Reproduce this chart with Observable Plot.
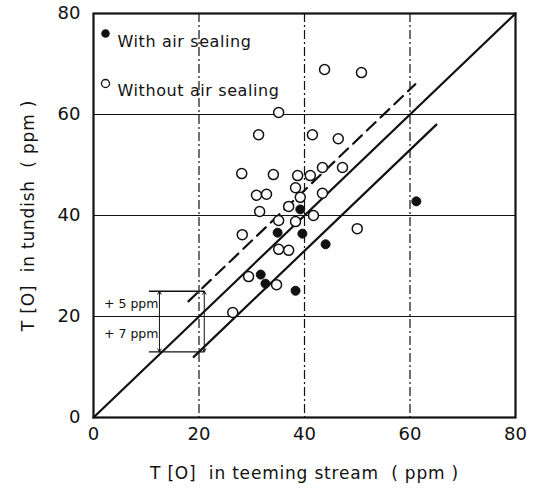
<!DOCTYPE html>
<html>
<head>
<meta charset="utf-8">
<script src="https://cdn.jsdelivr.net/npm/d3@7"></script>
<script src="https://cdn.jsdelivr.net/npm/@observablehq/plot@0.6"></script>
<style>
  body { margin: 0; background: #fff; }
  #chart svg { display: block; }
</style>
</head>
<body>
<div id="chart"></div>
<script>
// Total oxygen, teeming stream (x) vs tundish (y), ppm
const withoutSealingX = [43.8, 50.8, 35.1, 31.3, 41.5, 46.4, 28.1, 34.1, 38.7, 41.1, 43.4, 47.2, 38.3, 30.9, 32.8, 39.2, 43.4, 37.0, 31.5, 41.7, 35.1, 38.3, 28.2, 50.0, 35.1, 37.0, 29.4, 34.7, 26.4];
const withoutSealingY = [68.9, 68.3, 60.4, 56.0, 56.0, 55.2, 48.3, 48.1, 47.9, 47.9, 49.5, 49.5, 45.5, 44.0, 44.2, 43.6, 44.4, 41.8, 40.8, 40.0, 39.0, 38.8, 36.2, 37.4, 33.3, 33.1, 27.9, 26.3, 20.8];
const withSealingX = [39.2, 34.9, 39.6, 44.0, 61.2, 31.7, 32.6, 38.3];
const withSealingY = [41.2, 36.6, 36.4, 34.3, 42.8, 28.3, 26.5, 25.1];

const axisTicks = [0, 20, 40, 60, 80];
const gridValues = [20, 40, 60];

// Reference lines y = x + offset, each drawn over an x range
const parityRange = [0, 80];
const upperOffset = 5;   // dashed, +5 ppm
const upperRange = [18, 61];
const lowerOffset = -7;  // solid, -7 ppm
const lowerRange = [19, 65];

// Offset brackets drawn at x = 20
const bracketAt = 20;
const bracketLeftX = 12.5;
const bracketTickFrom = 10.5;
const bracketRightX = 21;
const bracketLabels = ["+ 5 ppm", "+ 7 ppm"];

const legendLabels = ["With air sealing", "Without air sealing"];

const withoutData = withoutSealingX.map((x, i) => ({x, y: withoutSealingY[i]}));
const withData = withSealingX.map((x, i) => ({x, y: withSealingY[i]}));
const lineOf = (range, off) => range.map(x => ({x, y: x + off}));

const upperY = bracketAt + upperOffset;
const lowerY = bracketAt + lowerOffset;
const brackets = [
  {x1: bracketTickFrom, y1: upperY, x2: bracketRightX, y2: upperY},
  {x1: bracketTickFrom, y1: lowerY, x2: bracketRightX, y2: lowerY}
];
const arrows = [
  {x1: bracketLeftX, y1: bracketAt, x2: bracketLeftX, y2: upperY},
  {x1: bracketLeftX, y1: bracketAt, x2: bracketLeftX, y2: lowerY},
  {x1: bracketRightX, y1: bracketAt, x2: bracketRightX, y2: upperY},
  {x1: bracketRightX, y1: bracketAt, x2: bracketRightX, y2: lowerY}
];
const bracketText = [
  {x: bracketLeftX, y: (bracketAt + upperY) / 2, t: bracketLabels[0]},
  {x: bracketLeftX, y: (bracketAt + lowerY) / 2, t: bracketLabels[1]}
];

const ink = "#111";

const chart = Plot.plot({
  width: 541,
  height: 488,
  marginLeft: 93,
  marginRight: 26,
  marginTop: 13,
  marginBottom: 71,
  style: {fontFamily: "'DejaVu Sans', sans-serif", color: ink, background: "#fff"},
  x: {domain: [0, 80]},
  y: {domain: [0, 80]},
  marks: [
    // grid
    Plot.ruleY(gridValues, {stroke: ink, strokeWidth: 1.2}),
    Plot.ruleX(gridValues, {stroke: ink, strokeWidth: 1.2, strokeDasharray: "9,3,2,3"}),
    // reference lines
    Plot.line(lineOf(parityRange, 0), {x: "x", y: "y", stroke: ink, strokeWidth: 2.2}),
    Plot.line(lineOf(upperRange, upperOffset), {x: "x", y: "y", stroke: ink, strokeWidth: 2.2, strokeDasharray: "12,7"}),
    Plot.line(lineOf(lowerRange, lowerOffset), {x: "x", y: "y", stroke: ink, strokeWidth: 2.2}),
    // offset brackets
    Plot.link(brackets, {x1: "x1", y1: "y1", x2: "x2", y2: "y2", stroke: ink, strokeWidth: 1.3}),
    Plot.arrow(arrows, {x1: "x1", y1: "y1", x2: "x2", y2: "y2", stroke: ink, strokeWidth: 1, headLength: 5, insetStart: 0, insetEnd: 0}),
    Plot.text(bracketText, {x: "x", y: "y", text: "t", textAnchor: "end", dx: -1, fontSize: 12.5, fill: ink}),
    // observations
    Plot.dot(withoutData, {x: "x", y: "y", r: 5, stroke: ink, strokeWidth: 1.5, fill: "#fff"}),
    Plot.dot(withData, {x: "x", y: "y", r: 4.5, stroke: ink, strokeWidth: 1, fill: ink}),
    // legend
    Plot.dot([legendLabels[0]], {frameAnchor: "top-left", dx: 12, dy: 20, r: 3.5, fill: ink, stroke: ink}),
    Plot.dot([legendLabels[1]], {frameAnchor: "top-left", dx: 12, dy: 70, r: 4, fill: "#fff", stroke: ink, strokeWidth: 1.3}),
    Plot.text([legendLabels[0]], {frameAnchor: "top-left", dx: 24, dy: 22, text: d => d, textAnchor: "start", fontSize: 16, fill: ink}),
    Plot.text([legendLabels[1]], {frameAnchor: "top-left", dx: 24, dy: 71, text: d => d, textAnchor: "start", fontSize: 16, fill: ink}),
    // axes
    Plot.axisX(axisTicks, {tickSize: 0, tickPadding: 10, fontSize: 18, label: "T [O]  in teeming stream  ( ppm )", labelAnchor: "center", labelOffset: 61, labelArrow: "none"}),
    Plot.axisY(axisTicks, {tickSize: 0, tickPadding: 13, fontSize: 18, label: "T [O]  in tundish  ( ppm )", labelAnchor: "center", labelOffset: 72, labelArrow: "none"}),
    Plot.frame({stroke: ink, strokeWidth: 2.2})
  ]
});

// widen the lettering of the legend and axis titles
d3.select(chart).selectAll("[aria-label='x-axis label'] text, [aria-label='y-axis label'] text")
  .style("font-size", "17px").style("letter-spacing", "0.8px");
d3.select(chart).selectAll("[aria-label='text'] text")
  .filter(function () { return legendLabels.includes(this.textContent); })
  .style("letter-spacing", "0.6px");

document.getElementById("chart").appendChild(chart);
</script>
</body>
</html>
